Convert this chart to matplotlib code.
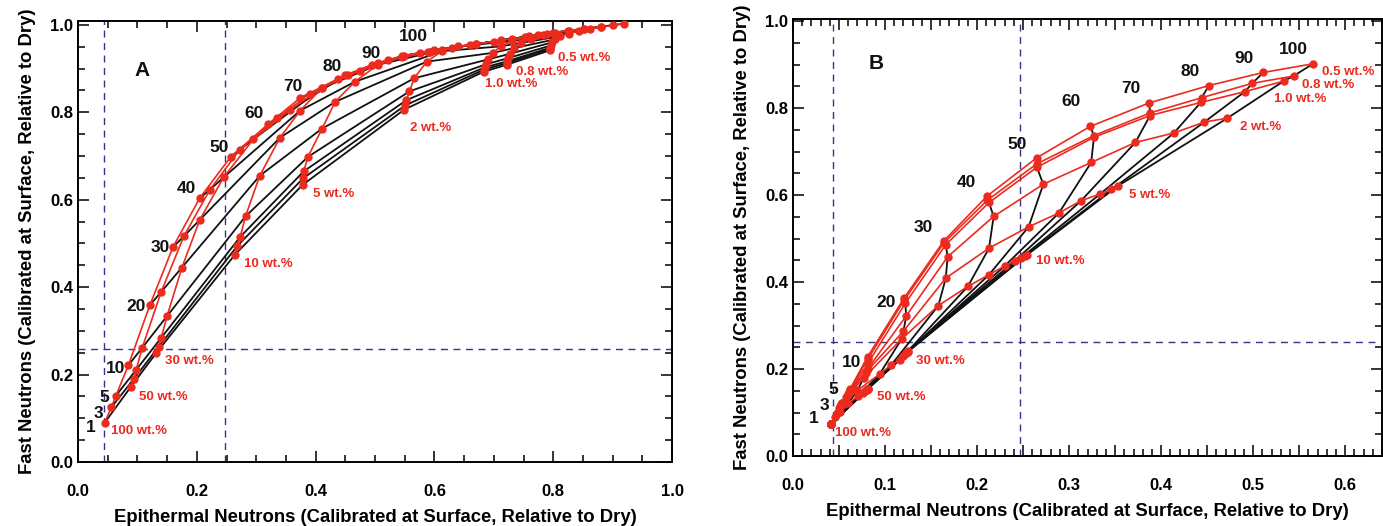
import matplotlib
matplotlib.use("Agg")
import matplotlib.pyplot as plt
from matplotlib.ticker import MultipleLocator, FuncFormatter

plt.rcParams['font.family'] = ['Liberation Sans', 'DejaVu Sans']
plt.rcParams['font.weight'] = 'bold'
plt.rcParams['axes.labelweight'] = 'bold'

RED = "#ec2a1e"
BLK = "#111111"
DASH = "#34348a"

depths = [1, 3, 5, 10, 20, 30, 40, 50, 60, 70, 80, 90, 100]
wt_labels = ["100 wt.%", "50 wt.%", "30 wt.%", "10 wt.%", "5 wt.%",
             "2 wt.%", "1.0 wt.%", "0.8 wt.%", "0.5 wt.%"]

# ---- panel A: dry layer over wet soil (one value per depth) ----
a_x_100 = [0.045, 0.056, 0.064, 0.085, 0.121, 0.160, 0.205, 0.257, 0.320, 0.374, 0.438, 0.505, 0.575]
a_y_100 = [0.090, 0.125, 0.152, 0.222, 0.359, 0.492, 0.604, 0.698, 0.773, 0.833, 0.877, 0.913, 0.935]
a_x_50 = [0.089, 0.094, 0.098, 0.108, 0.140, 0.178, 0.222, 0.272, 0.335, 0.390, 0.455, 0.522, 0.592]
a_y_50 = [0.172, 0.190, 0.211, 0.261, 0.389, 0.516, 0.623, 0.714, 0.786, 0.843, 0.885, 0.919, 0.939]
a_x_30 = [0.132, 0.136, 0.140, 0.150, 0.175, 0.205, 0.245, 0.295, 0.357, 0.410, 0.475, 0.545, 0.612]
a_y_30 = [0.250, 0.264, 0.284, 0.334, 0.445, 0.554, 0.651, 0.738, 0.805, 0.856, 0.895, 0.926, 0.943]
a_x_10 = [0.264, 0.268, 0.273, 0.282, 0.306, 0.340, 0.374, 0.410, 0.450, 0.495, 0.545, 0.600, 0.660]
a_y_10 = [0.474, 0.494, 0.515, 0.562, 0.655, 0.742, 0.804, 0.855, 0.885, 0.909, 0.929, 0.943, 0.954]
a_x_5 = [0.378, 0.379, 0.380, 0.387, 0.411, 0.433, 0.466, 0.505, 0.548, 0.590, 0.630, 0.670, 0.712]
a_y_5 = [0.634, 0.649, 0.665, 0.698, 0.763, 0.824, 0.870, 0.909, 0.929, 0.939, 0.948, 0.956, 0.965]
a_x_2 = [0.549, 0.551, 0.553, 0.558, 0.566, 0.587, 0.613, 0.640, 0.670, 0.700, 0.730, 0.760, 0.790]
a_y_2 = [0.806, 0.816, 0.828, 0.848, 0.878, 0.916, 0.940, 0.951, 0.956, 0.962, 0.968, 0.974, 0.980]
a_x_1 = [0.683, 0.684, 0.685, 0.687, 0.690, 0.698, 0.712, 0.730, 0.752, 0.775, 0.800, 0.825, 0.852]
a_y_1 = [0.893, 0.898, 0.903, 0.910, 0.921, 0.936, 0.951, 0.963, 0.972, 0.977, 0.982, 0.987, 0.991]
a_x_08 = [0.722, 0.722, 0.723, 0.724, 0.727, 0.734, 0.746, 0.762, 0.782, 0.803, 0.827, 0.852, 0.880]
a_y_08 = [0.909, 0.913, 0.917, 0.924, 0.934, 0.947, 0.959, 0.968, 0.976, 0.982, 0.987, 0.991, 0.996]
a_x_05 = [0.795, 0.795, 0.795, 0.796, 0.798, 0.803, 0.812, 0.826, 0.843, 0.862, 0.881, 0.900, 0.920]
a_y_05 = [0.942, 0.945, 0.948, 0.953, 0.960, 0.967, 0.974, 0.980, 0.986, 0.991, 0.995, 0.999, 1.003]

# ---- panel B: wet layer over ice ----
b_x_100 = [0.041, 0.041, 0.041, 0.041, 0.041, 0.041, 0.041, 0.041, 0.041, 0.041, 0.041, 0.041, 0.041]
b_y_100 = [0.073, 0.073, 0.073, 0.073, 0.073, 0.073, 0.073, 0.073, 0.073, 0.073, 0.073, 0.073, 0.073]
b_x_50 = [0.041, 0.046, 0.051, 0.060, 0.071, 0.076, 0.078, 0.079, 0.080, 0.080, 0.081, 0.081, 0.081]
b_y_50 = [0.073, 0.090, 0.102, 0.121, 0.138, 0.145, 0.149, 0.151, 0.152, 0.153, 0.153, 0.154, 0.154]
b_x_30 = [0.041, 0.048, 0.055, 0.070, 0.094, 0.107, 0.116, 0.120, 0.122, 0.123, 0.124, 0.125, 0.125]
b_y_30 = [0.073, 0.100, 0.119, 0.151, 0.188, 0.210, 0.221, 0.230, 0.235, 0.238, 0.239, 0.240, 0.241]
b_x_10 = [0.041, 0.050, 0.058, 0.077, 0.118, 0.158, 0.190, 0.213, 0.230, 0.241, 0.248, 0.252, 0.254]
b_y_10 = [0.073, 0.111, 0.136, 0.180, 0.269, 0.346, 0.390, 0.417, 0.437, 0.449, 0.456, 0.460, 0.462]
b_x_5 = [0.041, 0.051, 0.060, 0.079, 0.120, 0.166, 0.213, 0.256, 0.289, 0.313, 0.334, 0.346, 0.353]
b_y_5 = [0.073, 0.116, 0.143, 0.192, 0.287, 0.409, 0.478, 0.527, 0.559, 0.587, 0.603, 0.613, 0.621]
b_x_2 = [0.041, 0.052, 0.061, 0.081, 0.123, 0.168, 0.218, 0.272, 0.324, 0.372, 0.414, 0.447, 0.472]
b_y_2 = [0.073, 0.119, 0.147, 0.200, 0.322, 0.458, 0.551, 0.625, 0.675, 0.721, 0.743, 0.768, 0.777]
b_x_1 = [0.041, 0.053, 0.062, 0.081, 0.122, 0.166, 0.213, 0.265, 0.327, 0.388, 0.443, 0.491, 0.533]
b_y_1 = [0.073, 0.121, 0.150, 0.212, 0.351, 0.486, 0.583, 0.664, 0.733, 0.783, 0.813, 0.838, 0.862]
b_x_08 = [0.041, 0.053, 0.062, 0.081, 0.121, 0.164, 0.211, 0.265, 0.327, 0.388, 0.444, 0.499, 0.544]
b_y_08 = [0.073, 0.122, 0.152, 0.222, 0.359, 0.490, 0.588, 0.672, 0.737, 0.789, 0.824, 0.857, 0.874]
b_x_05 = [0.041, 0.053, 0.062, 0.081, 0.121, 0.164, 0.211, 0.265, 0.323, 0.387, 0.452, 0.511, 0.565]
b_y_05 = [0.073, 0.123, 0.154, 0.228, 0.364, 0.495, 0.598, 0.686, 0.758, 0.812, 0.852, 0.882, 0.902]

# label positions (number labels along outer curve, red wt.% labels)
a_num_x = [0.022, 0.035, 0.045, 0.063, 0.098, 0.139, 0.183, 0.237, 0.297, 0.361, 0.428, 0.494, 0.564]
a_num_y = [0.080, 0.112, 0.148, 0.213, 0.355, 0.491, 0.625, 0.720, 0.797, 0.858, 0.904, 0.934, 0.973]
a_wt_x = [0.103, 0.144, 0.187, 0.320, 0.431, 0.594, 0.729, 0.782, 0.853]
a_wt_y = [0.070, 0.149, 0.231, 0.454, 0.614, 0.764, 0.864, 0.893, 0.925]
b_num_x = [0.023, 0.034, 0.044, 0.064, 0.101, 0.142, 0.188, 0.243, 0.302, 0.367, 0.431, 0.490, 0.544]
b_num_y = [0.087, 0.115, 0.153, 0.216, 0.352, 0.525, 0.629, 0.716, 0.816, 0.845, 0.885, 0.914, 0.935]
b_wt_x = [0.076, 0.118, 0.160, 0.290, 0.388, 0.508, 0.551, 0.582, 0.603]
b_wt_y = [0.054, 0.135, 0.218, 0.448, 0.601, 0.757, 0.820, 0.853, 0.884]

a_xs = [a_x_100, a_x_50, a_x_30, a_x_10, a_x_5, a_x_2, a_x_1, a_x_08, a_x_05]
a_ys = [a_y_100, a_y_50, a_y_30, a_y_10, a_y_5, a_y_2, a_y_1, a_y_08, a_y_05]
b_xs = [b_x_100, b_x_50, b_x_30, b_x_10, b_x_5, b_x_2, b_x_1, b_x_08, b_x_05]
b_ys = [b_y_100, b_y_50, b_y_30, b_y_10, b_y_5, b_y_2, b_y_1, b_y_08, b_y_05]

fig = plt.figure(figsize=(13.83, 5.26), dpi=100)
axA = fig.add_axes([78/1383, 1-462/526, 594/1383, 441/526])
axB = fig.add_axes([793/1383, 1-456/526, 589/1383, 437/526])


def draw_panel(ax, xs, ys, num_x, num_y, wt_x, wt_y, tag, tag_xy, vlines, hline):
    # iso-depth curves in black
    for j in range(len(depths)):
        ax.plot([x[j] for x in xs], [y[j] for y in ys], color=BLK, lw=1.3, zorder=2)
    # constant water content curves in red
    for x, y in zip(xs, ys):
        ax.plot(x, y, "-o", color=RED, lw=1.2, ms=5, zorder=3, clip_on=False)
    for v in vlines:
        ax.axvline(v, color=DASH, lw=1.0, dashes=(5, 4), zorder=1)
    ax.axhline(hline, color=DASH, lw=1.0, dashes=(5, 4), zorder=1)
    for d, x, y in zip(depths, num_x, num_y):
        ax.text(x, y, str(d), fontsize=12.5, ha="center", va="center", color=BLK, zorder=5)
    for s, x, y in zip(wt_labels, wt_x, wt_y):
        ax.text(x, y, s, fontsize=9.5, ha="center", va="center", color=RED, zorder=5)
    ax.text(tag_xy[0], tag_xy[1], tag, fontsize=15, ha="center", va="center", color=BLK)
    ax.set_xlabel("Epithermal Neutrons (Calibrated at Surface, Relative to Dry)", fontsize=13.3, labelpad=7)
    ax.set_ylabel("Fast Neutrons (Calibrated at Surface, Relative to Dry)", fontsize=13.3, labelpad=10)
    ax.tick_params(which="both", direction="in", top=True, right=True, labelsize=12, width=1.1)
    ax.tick_params(which="major", length=8)
    ax.tick_params(which="minor", length=5)
    ax.tick_params(axis="x", pad=16)
    for sp in ax.spines.values():
        sp.set_linewidth(1.4)


draw_panel(axA, a_xs, a_ys, a_num_x, a_num_y, a_wt_x, a_wt_y, "A", (0.108, 0.895), [0.043, 0.247], 0.258)
axA.set_xlim(0, 1.0)
axA.set_ylim(0, 1.009)
axA.xaxis.set_major_locator(MultipleLocator(0.2))
axA.xaxis.set_minor_locator(MultipleLocator(0.05))
axA.yaxis.set_major_locator(MultipleLocator(0.2))
axA.yaxis.set_minor_locator(MultipleLocator(0.05))
axA.xaxis.set_major_formatter(FuncFormatter(lambda v, p: f"{v:.1f}"))
axA.yaxis.set_major_formatter(FuncFormatter(lambda v, p: f"{v:.1f}"))

draw_panel(axB, b_xs, b_ys, b_num_x, b_num_y, b_wt_x, b_wt_y, "B", (0.090, 0.902), [0.044, 0.247], 0.263)
axB.set_xlim(0, 0.64)
axB.set_ylim(0, 1.005)
axB.xaxis.set_major_locator(MultipleLocator(0.05))
axB.xaxis.set_minor_locator(MultipleLocator(0.01))
axB.yaxis.set_major_locator(MultipleLocator(0.2))
axB.yaxis.set_minor_locator(MultipleLocator(0.05))
axB.xaxis.set_major_formatter(FuncFormatter(lambda v, p: f"{v:.1f}" if abs(v * 10 - round(v * 10)) < 1e-6 else ""))
axB.yaxis.set_major_formatter(FuncFormatter(lambda v, p: f"{v:.1f}"))

fig.savefig("out.png", dpi=100)
